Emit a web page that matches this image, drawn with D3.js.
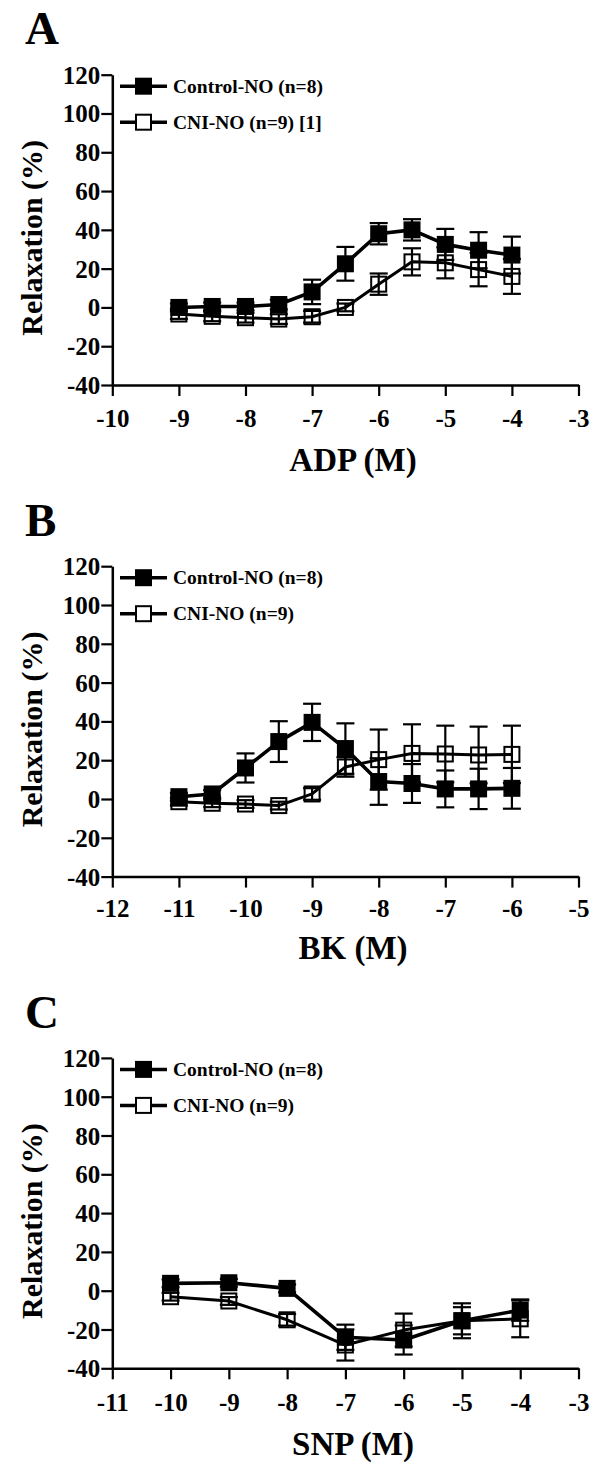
<!DOCTYPE html>
<html><head><meta charset="utf-8">
<script src="https://cdn.jsdelivr.net/npm/d3@7"></script>
<style>
html,body{margin:0;padding:0;background:#fff;}
svg text{font-family:"Liberation Serif","Times New Roman",serif;font-weight:bold;fill:#000;}
</style></head>
<body><svg id="chart" width="602" height="1468"></svg>
<script>
// ---------- data ----------
const panelLetters = ["A", "B", "C"];
const xTitles = ["ADP (M)", "BK (M)", "SNP (M)"];
const yTitle = "Relaxation (%)";
const seriesNames = ["Control-NO (n=8)", "CNI-NO (n=9)"];
const seriesNamesA = ["Control-NO (n=8)", "CNI-NO (n=9) [1]"];
const yTicks = [-40, -20, 0, 20, 40, 60, 80, 100, 120];

const xTicksA = [-10, -9, -8, -7, -6, -5, -4, -3];
const xTicksB = [-12, -11, -10, -9, -8, -7, -6, -5];
const xTicksC = [-11, -10, -9, -8, -7, -6, -5, -4, -3];

const doseA = [-9, -8.5, -8, -7.5, -7, -6.5, -6, -5.5, -5, -4.5, -4];
const ctrlA = [0, 0.5, 0.5, 1.5, 8, 22.5, 38, 40, 32.5, 29.5, 27];
const ctrlSemA = [2, 2, 2, 2.5, 6.3, 8.7, 5.5, 5.5, 8, 9.3, 9.5];
const cniA = [-3.4, -4.6, -5.3, -6, -4.8, 0, 12, 23.5, 23, 19.5, 16];
const cniSemA = [2.5, 2.5, 2.5, 2.5, 3, 2, 5.5, 7, 8, 8.6, 9];

const doseB = [-11, -10.5, -10, -9.5, -9, -8.5, -8, -7.5, -7, -6.5, -6];
const ctrlB = [1.2, 2.6, 16, 29.6, 39.5, 26, 9, 8, 5.2, 5.2, 5.5];
const ctrlSemB = [2, 2, 7.5, 10.5, 9.6, 13, 12, 10, 9.5, 10.4, 10.5];
const cniB = [-1.4, -2.2, -2.6, -3.4, 2.6, 16.5, 20.3, 23.5, 23.2, 22.7, 23];
const cniSemB = [2, 2, 2, 2, 3, 5, 15.5, 15, 14.6, 14.6, 14.8];

const doseC = [-10, -9, -8, -7, -6, -5, -4];
const ctrlC = [3.8, 4.1, 1.2, -24, -25.4, -15.5, -10];
const ctrlSemC = [2, 2, 2, 6.5, 7.5, 9, 5.5];
const cniC = [-3.1, -5.3, -15, -28, -20.3, -15.5, -14.5];
const cniSemC = [2, 2, 3, 8, 8.5, 7, 9.5];

// ---------- layout ----------
const svg = d3.select("#chart");
const left = 112.3, right = 578.5;
const fmt = d => String(d);

const panels = [
  {letter: panelLetters[0], xTitle: xTitles[0], ticks: xTicksA, dose: doseA,
   ctrl: ctrlA, ctrlSem: ctrlSemA, cni: cniA, cniSem: cniSemA, names: seriesNamesA,
   top: 74.7, bottom: 385, lblOff: 33, titleOff: 75},
  {letter: panelLetters[1], xTitle: xTitles[1], ticks: xTicksB, dose: doseB,
   ctrl: ctrlB, ctrlSem: ctrlSemB, cni: cniB, cniSem: cniSemB, names: seriesNames,
   top: 566.2, bottom: 876.6, lblOff: 32, titleOff: 71},
  {letter: panelLetters[2], xTitle: xTitles[2], ticks: xTicksC, dose: doseC,
   ctrl: ctrlC, ctrlSem: ctrlSemC, cni: cniC, cniSem: cniSemC, names: seriesNames,
   top: 1057.9, bottom: 1368.3, lblOff: 34, titleOff: 76}
];

panels.forEach(p => {
  const x = d3.scaleLinear().domain(d3.extent(p.ticks)).range([left, right]);
  const y = d3.scaleLinear().domain([-40, 120]).range([p.bottom, p.top]);
  const g = svg.append("g");

  // panel letter
  g.append("text").attr("x", 25).attr("y", y(0) - 263)
    .style("font-size", "47px").text(p.letter);

  // y axis
  const yAx = g.append("g").attr("transform", `translate(${left},0)`)
    .call(d3.axisLeft(y).tickValues(yTicks).tickSize(11).tickSizeOuter(0).tickPadding(1).tickFormat(fmt));
  yAx.select(".domain").attr("stroke", "#000").attr("stroke-width", 2.5);
  yAx.selectAll(".tick line").attr("stroke", "#000").attr("stroke-width", 2.2);
  yAx.selectAll(".tick text").style("font-size", "25px").style("font-family", "Liberation Serif, serif")
    .style("font-weight", "bold").attr("fill", "#000").attr("dy", "0.34em");

  // x axis
  const xAx = g.append("g").attr("transform", `translate(0,${p.bottom})`)
    .call(d3.axisBottom(x).tickValues(p.ticks).tickSize(11).tickSizeOuter(0).tickFormat(fmt));
  xAx.select(".domain").attr("stroke", "#000").attr("stroke-width", 2.5);
  xAx.selectAll(".tick line").attr("stroke", "#000").attr("stroke-width", 2.2);
  xAx.selectAll(".tick text").style("font-size", "25px").style("font-family", "Liberation Serif, serif")
    .style("font-weight", "bold").attr("fill", "#000")
    .attr("y", p.lblOff).attr("dy", "0.35em");

  // axis titles
  g.append("text").attr("x", 353).attr("y", p.bottom + p.titleOff)
    .attr("text-anchor", "middle").attr("dominant-baseline", "central")
    .style("font-size", "33px").text(p.xTitle);
  g.append("text")
    .attr("transform", `translate(31,${(p.top + p.bottom) / 2 + 8}) rotate(-90)`)
    .attr("text-anchor", "middle").attr("dominant-baseline", "central")
    .style("font-size", "30px").text(yTitle);

  const line = d3.line().x(d => x(d.d)).y(d => y(d.v));
  const mk = (vals, sems) => p.dose.map((d, i) => ({d, v: vals[i], s: sems[i]}));
  const series = [
    {data: mk(p.cni, p.cniSem), filled: false, lw: 3},
    {data: mk(p.ctrl, p.ctrlSem), filled: true, lw: 3.6}
  ];

  // error bars first
  series.forEach(s => {
    const eb = g.append("g");
    s.data.forEach(d => {
      eb.append("line").attr("x1", x(d.d)).attr("x2", x(d.d))
        .attr("y1", y(d.v - d.s)).attr("y2", y(d.v + d.s))
        .attr("stroke", "#000").attr("stroke-width", 2.2);
      [d.v - d.s, d.v + d.s].forEach(v => {
        eb.append("line").attr("x1", x(d.d) - 9).attr("x2", x(d.d) + 9)
          .attr("y1", y(v)).attr("y2", y(v))
          .attr("stroke", "#000").attr("stroke-width", 2.2);
      });
    });
  });

  // lines and markers
  series.forEach(s => {
    g.append("path").datum(s.data).attr("d", line)
      .attr("fill", "none").attr("stroke", "#000").attr("stroke-width", s.lw)
      .attr("stroke-linejoin", "round");
    g.selectAll(null).data(s.data).enter().append("rect")
      .attr("x", d => x(d.d) - (s.filled ? 8.5 : 7.5))
      .attr("y", d => y(d.v) - (s.filled ? 8.5 : 7.5))
      .attr("width", s.filled ? 17 : 15).attr("height", s.filled ? 17 : 15)
      .attr("fill", s.filled ? "#000" : "none")
      .attr("stroke", "#000").attr("stroke-width", s.filled ? 0 : 2);
  });

  // legend
  const legRows = [{name: p.names[0], filled: true, dy: 11.5}, {name: p.names[1], filled: false, dy: 47.5}];
  legRows.forEach(r => {
    const yy = p.top + r.dy;
    g.append("line").attr("x1", 120).attr("x2", 167).attr("y1", yy).attr("y2", yy)
      .attr("stroke", "#000").attr("stroke-width", 3.5);
    g.append("rect").attr("x", 143.5 - (r.filled ? 8.5 : 7.5)).attr("y", yy - (r.filled ? 8.5 : 7.5))
      .attr("width", r.filled ? 17 : 15).attr("height", r.filled ? 17 : 15)
      .attr("fill", r.filled ? "#000" : "#fff").attr("stroke", "#000").attr("stroke-width", r.filled ? 0 : 2);
    g.append("text").attr("x", 173).attr("y", yy).attr("dominant-baseline", "central")
      .style("font-size", "19.5px").text(r.name);
  });
});
</script></body></html>
